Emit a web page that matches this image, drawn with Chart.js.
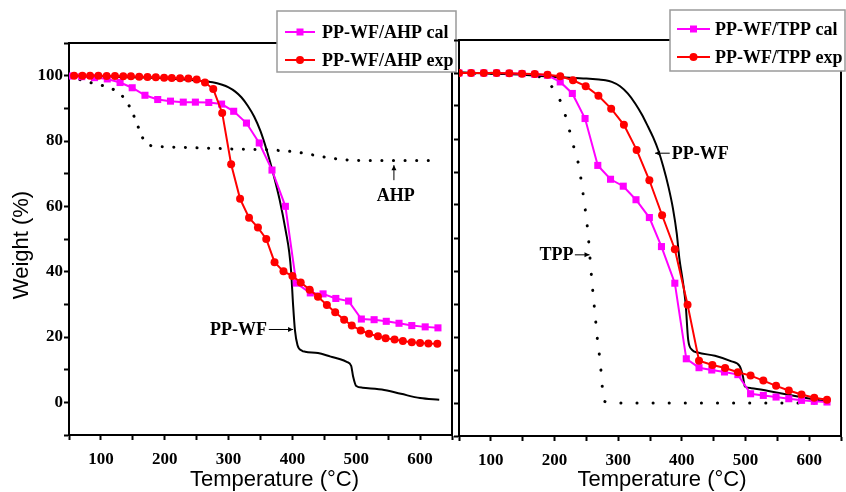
<!DOCTYPE html>
<html><head><meta charset="utf-8">
<script src="https://cdn.jsdelivr.net/npm/chart.js@4"></script>
<style>
html,body{margin:0;padding:0;background:#fff;width:846px;height:492px;overflow:hidden}
canvas{position:absolute;top:0}
#c1{left:0;width:460px;height:492px}
#c2{left:440px;width:406px;height:492px}
</style></head><body>
<canvas id="c1" width="460" height="492"></canvas>
<canvas id="c2" width="406" height="492"></canvas>
<script>
// ---------- data: left panel (AHP) ----------
const pwT  = [50,100,150,200,250,275,290,300,310,320,330,340,350,360,370,380,390,395,398,401,404,408,415,420,440,460,475,485,492,495,500,510,540,570,600,630];
const pwW  = [100,99.8,99.5,99.2,98.5,98.0,97.2,96.4,95.2,93.4,90.8,87.5,83,77,70,62,52,46,40,30,22,17.5,15.8,15.5,15.1,14.0,13.2,12.4,11.2,8.0,5.0,4.5,3.9,2.6,1.3,0.8];
const ahpT = [50,70,85,104,122,139,150,159,168,180,200,250,300,380,410,450,480,520,630];
const ahpW = [100,98.6,97.8,96.9,95.5,92.5,88.4,84,80,78.5,78.2,77.9,77.6,77.1,76.5,75.1,74.3,74.0,74.0];
const ahpCalT = [50,70,90,110,130,149,169,189,209,229,248,269,289,308,328,348,368,389,406,428,448,468,488,508,528,547,567,587,608,628];
const ahpCalW = [99.9,99.7,99.4,99.0,97.9,96.3,94.0,92.7,92.2,91.9,91.9,91.8,91.3,89.1,85.5,79.4,71.1,60.0,36.5,33.5,33.2,31.8,31.0,25.5,25.3,24.8,24.2,23.5,23.1,22.8];
const ahpExpT = [58,71,83,96,109,122,135,147,160,173,186,199,211,224,237,250,263,276,290,304,318,332,346,359,372,386,400,413,427,440,454,467,481,493,507,520,534,546,560,573,587,600,613,627];
const ahpExpW = [100,100,100,100,99.9,99.9,99.8,99.8,99.7,99.6,99.5,99.4,99.3,99.2,99.1,98.8,97.9,95.9,88.6,72.9,62.3,56.5,53.5,50,42.9,40.1,38.7,36.7,34.5,32.3,29.8,27.6,25.3,23.5,22.0,21.0,20.2,19.6,19.2,18.8,18.4,18.2,18.0,17.9];

// ---------- data: right panel (TPP) ----------
const pw2T = [50,100,150,200,250,270,280,290,303,315,327,337,347,355,363,371,379,386,392,396,402,406,410,416,425,452,478,491,496,499,509,540,582,625];
const pw2W = [100.2,99.8,99.5,98.8,98.3,98.0,97.8,97.3,96.0,93.8,90.7,87.5,83.7,80.5,76.6,71.5,65.5,59,51.4,44,36.3,30,19.1,16.1,15.3,14.3,12.6,11.1,8.0,5.0,4.5,3.5,2.0,0.5];
const tppT = [50,100,150,180,196,212,222,230,238,243,247,251,254,256,259,262,265,268,272,274.5,278,300,625];
const tppW = [100,99.9,99.6,98.5,95.8,90.2,83.7,77.8,72.1,66,60.5,54.4,48.4,43.3,36.3,30.2,24.2,18.1,12.1,6,0.5,0,0];
const tppCalT = [50,69,89,109,129,149,169,189,209,228,248,268,288,308,328,349,368,389,407,427,447,467,488,508,528,548,568,588,608,628];
const tppCalW = [100,100,100,100,99.9,99.8,99.6,99.3,97.3,93.8,86.2,72.0,67.8,65.7,61.6,56.2,47.4,36.3,13.4,10.7,10.0,9.4,8.6,2.8,2.3,1.8,1.3,0.8,0.5,0.3];
const tppExpT = [50,69,89,109,129,149,169,189,209,229,249,269,289,309,329,349,369,389,409,427,448,468,488,508,528,548,568,588,608,628];
const tppExpW = [100,100,100,100,99.9,99.8,99.7,99.5,99.0,97.8,96.0,93.1,89.2,84.3,76.7,67.5,56.9,46.6,29.8,12.8,11.5,10.6,9.3,8.3,6.8,5.2,3.8,2.6,1.6,1.0];

// ---------- ticks / labels ----------
const xTickLabels = [100,200,300,400,500,600];
const yTickLabels = [0,20,40,60,80,100];
const xTitle = 'Temperature (°C)';
const yTitle = 'Weight (%)';
const leftLegend = ['PP-WF/AHP cal','PP-WF/AHP exp'];
const rightLegend = ['PP-WF/TPP cal','PP-WF/TPP exp'];
// annotations in data units: [text, textT, textW, align, arrowFromT, arrowFromW, arrowToT, arrowToW]
const leftNotes = [
  ['PP-WF', 360, 22.3, 'right', 363, 22.3, 401, 22.3],
  ['AHP', 562, 63.3, 'center', 559, 68, 559, 72.6]
];
const rightNotes = [
  ['PP-WF', 384, 75.7, 'left', 381, 75.7, 358, 75.7],
  ['TPP', 230, 44.9, 'right', 232, 44.9, 255, 44.9]
];

const zip = (a,b) => a.map((v,i)=>({x:v, y:b[i]}));
const MAG = '#FF00FF', RED = '#FF0000';

function datasets(calT,calW,expT,expW,pT,pW,dT,dW,dash){
  return [
    {data:zip(expT,expW), borderColor:RED, backgroundColor:RED, borderWidth:2, pointStyle:'circle', pointRadius:4, pointBorderWidth:0},
    {data:zip(calT,calW), borderColor:MAG, backgroundColor:MAG, borderWidth:2, pointStyle:'rect', pointRadius:5, pointBorderWidth:0},
    {data:zip(pT,pW), borderColor:'#000', borderWidth:2, pointRadius:0, cubicInterpolationMode:'monotone'},
    {data:zip(dT,dW), borderColor:'#000', borderWidth:3, borderDash:dash, borderCapStyle:'round', pointRadius:0, cubicInterpolationMode:'monotone'}
  ];
}

function decor(cfg){
  return {
    id:'decor'+cfg.id,
    afterDraw(chart){
      const ctx = chart.ctx, a = chart.chartArea, sx = chart.scales.x, sy = chart.scales.y;
      ctx.save();
      // frame top and right
      ctx.strokeStyle='#000'; ctx.lineWidth=2;
      ctx.beginPath(); ctx.moveTo(a.left, a.top); ctx.lineTo(a.right, a.top); ctx.lineTo(a.right, a.bottom); ctx.stroke();
      // x title
      ctx.fillStyle='#000'; ctx.font='22px "Liberation Sans", Arial, sans-serif';
      ctx.textAlign='center'; ctx.textBaseline='middle';
      ctx.fillText(xTitle, (a.left+a.right)/2 + cfg.xTitleShift, 480);
      if (cfg.yTitle){
        ctx.save(); ctx.translate(22, 245); ctx.rotate(-Math.PI/2);
        ctx.fillText(yTitle, 0, 0); ctx.restore();
      }
      // legend
      const L = cfg.legend;
      ctx.fillStyle='#fff'; ctx.fillRect(L.x, L.y, L.w, L.h);
      ctx.strokeStyle='#9a9a9a'; ctx.lineWidth=1.5; ctx.strokeRect(L.x, L.y, L.w, L.h);
      const items = [{c:MAG, s:'rect', t:cfg.legendText[0], y:L.r1},{c:RED, s:'circle', t:cfg.legendText[1], y:L.r2}];
      ctx.font='bold 18px "Liberation Serif", "Times New Roman", serif';
      ctx.textAlign='left'; ctx.textBaseline='middle';
      items.forEach(it=>{
        ctx.strokeStyle=it.c; ctx.fillStyle=it.c; ctx.lineWidth=2;
        ctx.beginPath(); ctx.moveTo(L.sx, it.y); ctx.lineTo(L.sx+L.sw, it.y); ctx.stroke();
        const cx = L.sx+L.sw/2;
        if (it.s==='rect'){ ctx.fillRect(cx-3.5, it.y-3.5, 7, 7); }
        else { ctx.beginPath(); ctx.arc(cx, it.y, 4, 0, Math.PI*2); ctx.fill(); }
        ctx.fillStyle='#000'; ctx.fillText(it.t, L.tx, it.y+1);
      });
      // annotations
      cfg.notes.forEach(n=>{
        const [t,tx,ty,al,fx,fy,toX,toY] = n;
        ctx.fillStyle='#000'; ctx.textAlign=al; ctx.textBaseline='middle';
        ctx.fillText(t, sx.getPixelForValue(tx), sy.getPixelForValue(ty)+1);
        const x1=sx.getPixelForValue(fx), y1=sy.getPixelForValue(fy), x2=sx.getPixelForValue(toX), y2=sy.getPixelForValue(toY);
        ctx.strokeStyle='#000'; ctx.lineWidth=1;
        ctx.beginPath(); ctx.moveTo(x1,y1); ctx.lineTo(x2,y2); ctx.stroke();
        const ang=Math.atan2(y2-y1,x2-x1);
        ctx.beginPath(); ctx.moveTo(x2,y2);
        ctx.lineTo(x2-5*Math.cos(ang)+2.5*Math.sin(ang), y2-5*Math.sin(ang)-2.5*Math.cos(ang));
        ctx.lineTo(x2-5*Math.cos(ang)-2.5*Math.sin(ang), y2-5*Math.sin(ang)+2.5*Math.cos(ang));
        ctx.closePath(); ctx.fill();
      });
      ctx.restore();
    }
  };
}

function options(cfg){
  const tickFont = {family:'"Liberation Serif", "Times New Roman", serif', weight:'bold', size:17};
  return {
    responsive:false, animation:false, events:[],
    layout:{padding:{top:cfg.top, right:cfg.right, left:0, bottom:0}},
    plugins:{legend:{display:false}, tooltip:{enabled:false}},
    scales:{
      x:{type:'linear', min:50, max:650,
        afterFit(s){ s.height = cfg.xh; s.paddingLeft = 0; s.paddingRight = 0; },
        ticks:{stepSize:50, autoSkip:false, maxRotation:0, color:'#000', font:tickFont, padding:9,
          callback:v => xTickLabels.includes(v) ? String(v) : ''},
        grid:{drawOnChartArea:false, drawTicks:true, tickLength:5, tickWidth:2, tickColor:'#000'},
        border:{display:true, color:'#000', width:2}},
      y:{type:'linear', min:-10, max:110,
        afterFit(s){ s.width = cfg.yw; s.paddingTop = 0; s.paddingBottom = 0; },
        ticks:{stepSize:10, autoSkip:false, color:'#000', font:tickFont, padding:1,
          callback:v => (cfg.yLabels && yTickLabels.includes(v)) ? String(v) : ''},
        grid:{drawOnChartArea:false, drawTicks:true, tickLength:5, tickWidth:2, tickColor:'#000'},
        border:{display:true, color:'#000', width:2}}
    }
  };
}

const leftCfg = {id:1, top:43, right:8, xh:57, yw:69, yLabels:true, yTitle:true, xTitleShift:14,
  legendText:leftLegend, notes:leftNotes,
  legend:{x:277, y:11, w:179, h:61, r1:32, r2:60, sx:285, sw:30, tx:322}};
const rightCfg = {id:2, top:40, right:3, xh:56, yw:19, yLabels:false, yTitle:false, xTitleShift:12,
  legendText:rightLegend, notes:rightNotes,
  legend:{x:230, y:10, w:175, h:61, r1:29, r2:57, sx:237, sw:33, tx:275}};

new Chart(document.getElementById('c1'), {
  type:'line',
  data:{datasets:datasets(ahpCalT,ahpCalW,ahpExpT,ahpExpW,pwT,pwW,ahpT,ahpW,[0.1,11.5])},
  options:options(leftCfg), plugins:[decor(leftCfg)]
});
new Chart(document.getElementById('c2'), {
  type:'line',
  data:{datasets:datasets(tppCalT,tppCalW,tppExpT,tppExpW,pw2T,pw2W,tppT,tppW,[0.1,16])},
  options:options(rightCfg), plugins:[decor(rightCfg)]
});
</script>
</body></html>
